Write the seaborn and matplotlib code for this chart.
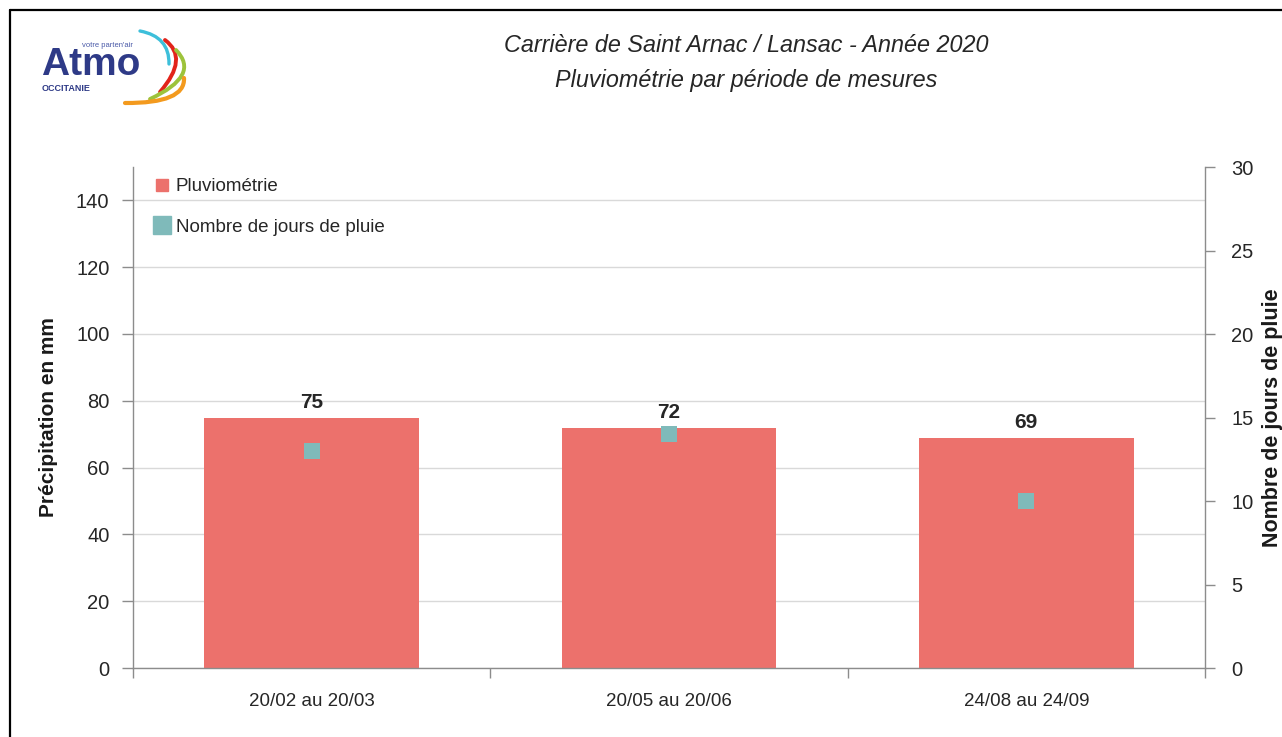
import numpy as np
import pandas as pd
import matplotlib
matplotlib.use("Agg")
import matplotlib.pyplot as plt
import seaborn as sns
from matplotlib.path import Path
from matplotlib.patches import PathPatch
from matplotlib.lines import Line2D
from matplotlib.ticker import FixedLocator

# ---- data ----
periods = ["20/02 au 20/03", "20/05 au 20/06", "24/08 au 24/09"]
precip_mm = [75, 72, 69]
rain_days = [13, 14, 10]
left_ticks = [0, 20, 40, 60, 80, 100, 120, 140]
right_ticks = [0, 5, 10, 15, 20, 25, 30]
title_lines = ["Carrière de Saint Arnac / Lansac - Année 2020",
               "Pluviométrie par période de mesures"]
legend_labels = ["Pluviométrie", "Nombre de jours de pluie"]

BAR = "#EC716C"
TEAL = "#7FBABA"
TXT = "#262626"
SPINE = "#8C8C8C"
GRID = "#D9D9D9"

W, H = 1282, 737

sns.set_theme(style="white")
plt.rcParams["font.family"] = ["Liberation Sans", "DejaVu Sans"]

df = pd.DataFrame({"period": periods, "precip": precip_mm, "days": rain_days})

fig = plt.figure(figsize=(W / 100, H / 100), dpi=100)
fig.patch.set_facecolor("white")

ax = fig.add_axes([133 / W, 1 - 668 / H, (1205 - 133) / W, (668 - 167) / H])
sns.barplot(data=df, x="period", y="precip", color=BAR, saturation=1,
            width=0.6, linewidth=0, ax=ax, zorder=2)

ax2 = ax.twinx()
sns.pointplot(data=df, x="period", y="days", color=TEAL, marker="s",
              linestyle="none", markersize=11.5, markeredgewidth=0,
              errorbar=None, ax=ax2, zorder=3)

ax.set_xlim(-0.5, len(periods) - 0.5)
ax.set_ylim(0, 150)
ax.set_yticks(left_ticks)
ax2.set_ylim(0, 30)
ax2.set_yticks(right_ticks)

ax.yaxis.grid(True, color=GRID, lw=1)
ax.set_axisbelow(True)

for s in ["top", "right"]:
    ax.spines[s].set_visible(False)
for s in ["top", "left", "bottom"]:
    ax2.spines[s].set_visible(False)
ax.spines["left"].set_color(SPINE)
ax.spines["bottom"].set_color(SPINE)
ax2.spines["right"].set_color(SPINE)
for sp in [ax.spines["left"], ax.spines["bottom"], ax2.spines["right"]]:
    sp.set_linewidth(1)

ax.tick_params(axis="y", direction="out", length=8, width=1, color=SPINE,
               pad=9, labelsize=14.5, labelcolor=TXT, left=True)
ax2.tick_params(axis="y", direction="out", length=7, width=1, color=SPINE,
                pad=12, labelsize=14.5, labelcolor=TXT, right=True)
ax.xaxis.set_minor_locator(FixedLocator(np.arange(-0.5, len(periods), 1.0)))
ax.tick_params(axis="x", which="major", length=0, pad=18, labelsize=13.5,
               labelcolor=TXT)
ax.tick_params(axis="x", which="minor", length=7, width=1, color=SPINE,
               direction="out", bottom=True)

ax.bar_label(ax.containers[0], fmt="%d", padding=4, fontweight="bold",
             fontsize=15, color=TXT)

ax.set_xlabel("")
ax.set_ylabel("Précipitation en mm", fontweight="bold", fontsize=15, color="#1A1A1A")
ax.yaxis.set_label_coords((58 - 133) / 1072, 0.5)
ax2.set_ylabel("Nombre de jours de pluie", fontweight="bold", fontsize=15.5,
               color="#1A1A1A")
ax2.yaxis.set_label_coords((1262 - 133) / 1072, 0.5)

handles = [Line2D([], [], marker="s", color=BAR, ls="none", markersize=9),
           Line2D([], [], marker="s", color=TEAL, ls="none", markersize=12.5)]
ax2.legend(handles, legend_labels, loc="upper left",
           bbox_to_anchor=((153 - 133) / 1072, 1 - (178 - 167) / 501),
           frameon=False, fontsize=13.5, handlelength=1.0, handletextpad=0.2,
           labelspacing=1.25, borderpad=0, borderaxespad=0, labelcolor=TXT)

# titles
fig.text(746 / W, 1 - 45 / H, title_lines[0], ha="center", va="center",
         fontsize=16.8, style="italic", color=TXT)
fig.text(746 / W, 1 - 80 / H, title_lines[1], ha="center", va="center",
         fontsize=16.8, style="italic", color=TXT)

# overlay: border and logo
ov = fig.add_axes([0, 0, 1, 1], zorder=-1)
ov.set_xlim(0, W)
ov.set_ylim(0, H)
ov.axis("off")
ov.plot([10, 10], [H - 10, -5], color="black", lw=1.6)
ov.plot([10, W + 5], [H - 10, H - 10], color="black", lw=1.6)

# logo swooshes: (start, mid, end) in pixel coordinates from top-left
swooshes = [
    ((140, 31), (162, 42), (169, 64), "#3DBFDA", 2.4),
    ((165, 40), (176, 62), (160, 92), "#E2231A", 2.8),
    ((176, 50), (182, 75), (150, 99), "#9DC33B", 2.8),
    ((184, 78), (170, 97), (125, 103), "#F39A1E", 3.0),
]
for s, m, e, c, lw in swooshes:
    s = np.array([s[0], H - s[1]], float)
    m = np.array([m[0], H - m[1]], float)
    e = np.array([e[0], H - e[1]], float)
    ctrl = 2 * m - (s + e) / 2
    p = Path([s, ctrl, e], [Path.MOVETO, Path.CURVE3, Path.CURVE3])
    ov.add_patch(PathPatch(p, fill=False, edgecolor=c, lw=lw, capstyle="round"))

ov.text(41, H - 75, "Atmo", fontsize=28, fontweight="bold", color="#2E3A87",
        ha="left", va="baseline")
ov.text(82, H - 45, "votre parten'air", fontsize=5.5, color="#4A5AA8",
        ha="left", va="center")
ov.text(42, H - 88, "OCCITANIE", fontsize=6.5, fontweight="bold",
        color="#2E3A87", ha="left", va="center")

fig.savefig("out.png", dpi=100, facecolor="white")
